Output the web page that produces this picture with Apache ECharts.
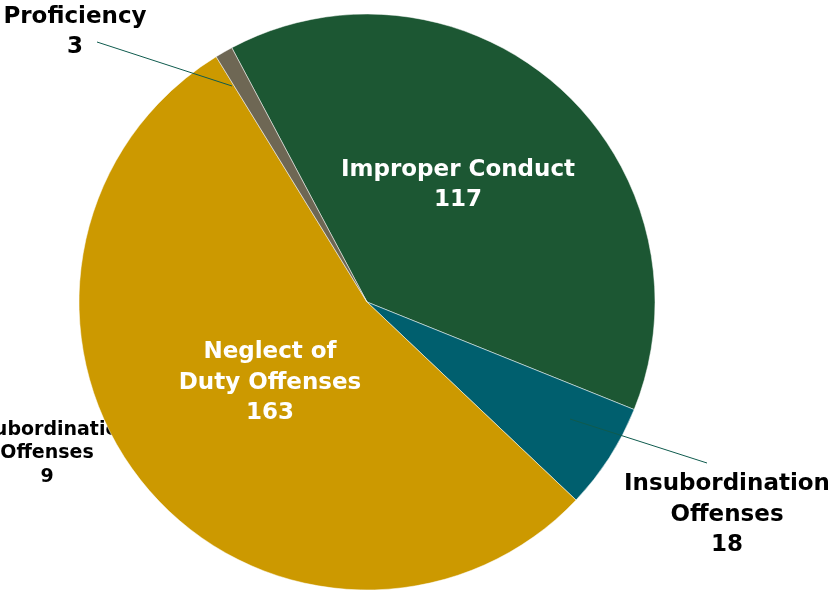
<!DOCTYPE html>
<html><head><meta charset="utf-8">
<script src="https://cdn.jsdelivr.net/npm/echarts@6/dist/echarts.min.js"></script>
<style>html,body{margin:0;padding:0;background:#fff}#c{width:828px;height:594px}</style>
</head><body><div id="c"></div>
<script>
const categories = ['Improper Conduct', 'Insubordination\nOffenses', 'Neglect of\nDuty Offenses', 'Proficiency'];
const values = [117, 18, 163, 3];
const colors = ['#1c5733', '#005f6e', '#cc9900', '#6e6754'];
const ghostLabel = ['Insubordination', 'Offenses', '9'];

// label placement (pixel positions of label centers) and leader lines
const labelPos = [
  {x: 458, y: 185, color: '#fff'},
  {x: 727, y: 515, color: '#000', line: [[570, 419], [707, 463]]},
  {x: 270, y: 383, color: '#fff'},
  {x: 75, y: 32, color: '#000', line: [[232, 86], [97, 42]]}
];

const chart = echarts.init(document.getElementById('c'));
chart.setOption({
  animation: false,
  graphic: [{
    type: 'text', z: 0, x: 47, y: 418,
    style: {text: ghostLabel.join('\n'), fill: '#000', font: 'bold 19px "DejaVu Sans"', lineHeight: 23.5, align: 'center', textAlign: 'center'}
  }].concat(labelPos.filter(l => l.line).map(l => ({
    type: 'polyline', z: 100, silent: true,
    shape: {points: l.line},
    style: {stroke: '#0f5b4e', lineWidth: 1, fill: null}
  }))),
  series: [{
    type: 'pie', z: 5,
    center: [367, 302], radius: 288,
    startAngle: 118, clockwise: true,
    itemStyle: {borderColor: '#fff', borderWidth: 0.5},
    data: categories.map((n, i) => ({
      name: n, value: values[i],
      itemStyle: {color: colors[i]},
      label: {color: labelPos[i].color}
    })),
    label: {
      show: true, formatter: '{b}\n{c}', overflow: 'none', width: 400,
      fontFamily: 'DejaVu Sans', fontWeight: 'bold', fontSize: 23, lineHeight: 30.5,
      align: 'center'
    },
    labelLine: {show: false},
    labelLayout: function (p) {
      const l = labelPos[p.dataIndex];
      return {x: l.x, y: l.y, align: 'center', verticalAlign: 'middle'};
    }
  }]
});
</script></body></html>
